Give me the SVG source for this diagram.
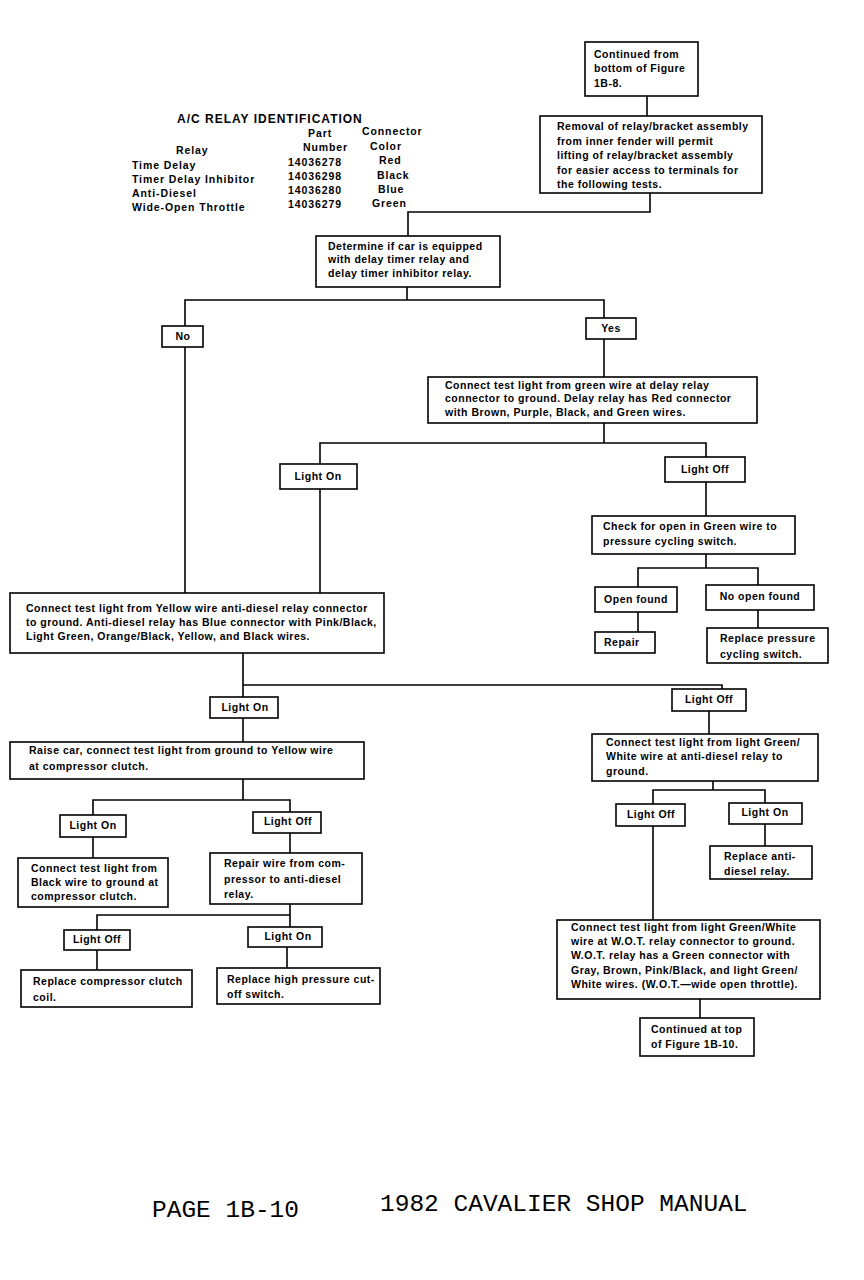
<svg xmlns="http://www.w3.org/2000/svg" width="864" height="1280" viewBox="0 0 864 1280">
<style>
.bg{fill:#fff}
.box{fill:#fff;stroke:#000;stroke-width:1.6}
.ln{fill:none;stroke:#000;stroke-width:1.6}
text{font-family:"Liberation Sans",Arial,sans-serif;font-weight:bold;font-size:10.5px;letter-spacing:0.5px;fill:#000}
.c{text-anchor:middle}
.tb{letter-spacing:0.9px}
.tt{font-size:12px;letter-spacing:1px}
.foot{font-family:"Liberation Mono","Courier New",monospace;font-weight:normal;font-size:24.5px;letter-spacing:0}
</style>
<rect class="bg" x="0" y="0" width="864" height="1280"/>
<g id="table">
<text class="tt" x="177" y="123">A/C RELAY IDENTIFICATION</text>
<text class="tb" x="308" y="137">Part</text><text class="tb" x="362" y="135">Connector</text>
<text class="tb" x="176" y="154">Relay</text><text class="tb" x="303" y="151">Number</text><text class="tb" x="370" y="150">Color</text>
<text class="tb" x="132" y="169">Time Delay</text><text class="tb" x="288" y="166">14036278</text><text class="tb" x="379" y="164">Red</text>
<text class="tb" x="132" y="183">Timer Delay Inhibitor</text><text class="tb" x="288" y="180">14036298</text><text class="tb" x="377" y="179">Black</text>
<text class="tb" x="132" y="197">Anti-Diesel</text><text class="tb" x="288" y="194">14036280</text><text class="tb" x="378" y="193">Blue</text>
<text class="tb" x="132" y="211">Wide-Open Throttle</text><text class="tb" x="288" y="208">14036279</text><text class="tb" x="372" y="207">Green</text>
</g>
<g id="connectors">
<path class="ln" d="M647 96V116"/>
<path class="ln" d="M650 193V212H408V236"/>
<path class="ln" d="M407 287V300M185 326V300H604V318"/>
<path class="ln" d="M185 347V593"/>
<path class="ln" d="M604 339V377"/>
<path class="ln" d="M604 423V443M320 464V443H706V457"/>
<path class="ln" d="M320 489V593"/>
<path class="ln" d="M706 482V516"/>
<path class="ln" d="M706 554V568M638 587V568H758V585"/>
<path class="ln" d="M638 612V632"/>
<path class="ln" d="M758 610V628"/>
<path class="ln" d="M243 653V697M243 685H722V689"/>
<path class="ln" d="M243 718V742"/>
<path class="ln" d="M709 711V734"/>
<path class="ln" d="M243 779V800M93 815V800H290V812"/>
<path class="ln" d="M93 837V858"/>
<path class="ln" d="M290 833V853"/>
<path class="ln" d="M290 904V915M97 930V915H290V927"/>
<path class="ln" d="M97 950V970"/>
<path class="ln" d="M287 947V968"/>
<path class="ln" d="M713 781V790M653 804V790H765V803"/>
<path class="ln" d="M765 824V846"/>
<path class="ln" d="M653 826V920"/>
<path class="ln" d="M700 999V1018"/>
</g>
<g id="n_continued_from"><rect class="box" x="585" y="42" width="113" height="54"/>
<text x="594" y="58">Continued from</text><text x="594" y="72">bottom of Figure</text><text x="594" y="87">1B-8.</text></g>
<g id="n_removal"><rect class="box" x="540" y="116" width="222" height="77"/>
<text x="557" y="130">Removal of relay/bracket assembly</text><text x="557" y="145">from inner fender will permit</text><text x="557" y="159">lifting of relay/bracket assembly</text><text x="557" y="174">for easier access to terminals for</text><text x="557" y="188">the following tests.</text></g>
<g id="n_determine"><rect class="box" x="316" y="236" width="184" height="51"/>
<text x="328" y="250">Determine if car is equipped</text><text x="328" y="263">with delay timer relay and</text><text x="328" y="277">delay timer inhibitor relay.</text></g>
<g id="n_no"><rect class="box" x="162" y="326" width="41" height="21"/><text class="c" x="183" y="340">No</text></g>
<g id="n_yes"><rect class="box" x="586" y="318" width="50" height="21"/><text class="c" x="611" y="332">Yes</text></g>
<g id="n_green"><rect class="box" x="428" y="377" width="329" height="46"/>
<text x="445" y="389">Connect test light from green wire at delay relay</text><text x="445" y="402">connector to ground. Delay relay has Red connector</text><text x="445" y="416">with Brown, Purple, Black, and Green wires.</text></g>
<g id="n_on1"><rect class="box" x="280" y="464" width="77" height="25"/><text class="c" x="318" y="480">Light On</text></g>
<g id="n_off1"><rect class="box" x="665" y="457" width="80" height="25"/><text class="c" x="705" y="473">Light Off</text></g>
<g id="n_check"><rect class="box" x="592" y="516" width="203" height="38"/>
<text x="603" y="530">Check for open in Green wire to</text><text x="603" y="545">pressure cycling switch.</text></g>
<g id="n_open"><rect class="box" x="595" y="587" width="82" height="25"/><text class="c" x="636" y="603">Open found</text></g>
<g id="n_noopen"><rect class="box" x="706" y="585" width="108" height="25"/><text class="c" x="760" y="600">No open found</text></g>
<g id="n_repair"><rect class="box" x="595" y="632" width="60" height="21"/><text x="604" y="646">Repair</text></g>
<g id="n_replace_pcs"><rect class="box" x="707" y="628" width="121" height="35"/>
<text x="720" y="642">Replace pressure</text><text x="720" y="658">cycling switch.</text></g>
<g id="n_yellow"><rect class="box" x="10" y="593" width="374" height="60"/>
<text x="26" y="612">Connect test light from Yellow wire anti-diesel relay connector</text><text x="26" y="626">to ground. Anti-diesel relay has Blue connector with Pink/Black,</text><text x="26" y="640">Light Green, Orange/Black, Yellow, and Black wires.</text></g>
<g id="n_on2"><rect class="box" x="210" y="697" width="68" height="21"/><text class="c" x="245" y="711">Light On</text></g>
<g id="n_off2"><rect class="box" x="672" y="689" width="74" height="22"/><text class="c" x="709" y="703">Light Off</text></g>
<g id="n_raise"><rect class="box" x="10" y="742" width="354" height="37"/>
<text x="29" y="754">Raise car, connect test light from ground to Yellow wire</text><text x="29" y="770">at compressor clutch.</text></g>
<g id="n_on3"><rect class="box" x="60" y="815" width="66" height="22"/><text class="c" x="93" y="829">Light On</text></g>
<g id="n_off3"><rect class="box" x="253" y="812" width="68" height="21"/><text class="c" x="288" y="825">Light Off</text></g>
<g id="n_black"><rect class="box" x="18" y="858" width="150" height="49"/>
<text x="31" y="872">Connect test light from</text><text x="31" y="886">Black wire to ground at</text><text x="31" y="900">compressor clutch.</text></g>
<g id="n_repairwire"><rect class="box" x="210" y="853" width="152" height="51"/>
<text x="224" y="867">Repair wire from com-</text><text x="224" y="883">pressor to anti-diesel</text><text x="224" y="898">relay.</text></g>
<g id="n_off4"><rect class="box" x="64" y="930" width="66" height="20"/><text class="c" x="97" y="943">Light Off</text></g>
<g id="n_on4"><rect class="box" x="248" y="927" width="74" height="20"/><text class="c" x="288" y="940">Light On</text></g>
<g id="n_coil"><rect class="box" x="21" y="970" width="171" height="37"/>
<text x="33" y="985">Replace compressor clutch</text><text x="33" y="1001">coil.</text></g>
<g id="n_hp"><rect class="box" x="217" y="968" width="163" height="36"/>
<text x="227" y="983">Replace high pressure cut-</text><text x="227" y="998">off switch.</text></g>
<g id="n_lgw"><rect class="box" x="592" y="734" width="226" height="47"/>
<text x="606" y="746">Connect test light from light Green/</text><text x="606" y="760">White wire at anti-diesel relay to</text><text x="606" y="775">ground.</text></g>
<g id="n_off5"><rect class="box" x="616" y="804" width="69" height="22"/><text class="c" x="651" y="818">Light Off</text></g>
<g id="n_on5"><rect class="box" x="729" y="803" width="73" height="21"/><text class="c" x="765" y="816">Light On</text></g>
<g id="n_antidiesel"><rect class="box" x="710" y="846" width="102" height="33"/>
<text x="724" y="860">Replace anti-</text><text x="724" y="875">diesel relay.</text></g>
<g id="n_wot"><rect class="box" x="557" y="920" width="263" height="79"/>
<text x="571" y="931">Connect test light from light Green/White</text><text x="571" y="945">wire at W.O.T. relay connector to ground.</text><text x="571" y="959">W.O.T. relay has a Green connector with</text><text x="571" y="974">Gray, Brown, Pink/Black, and light Green/</text><text x="571" y="988">White wires. (W.O.T.—wide open throttle).</text></g>
<g id="n_continued_at"><rect class="box" x="640" y="1018" width="114" height="38"/>
<text x="651" y="1033">Continued at top</text><text x="651" y="1048">of Figure 1B-10.</text></g>
<g id="footer">
<text class="foot" x="152" y="1217">PAGE 1B-10</text>
<text class="foot" x="380" y="1211">1982 CAVALIER SHOP MANUAL</text>
</g>
</svg>
